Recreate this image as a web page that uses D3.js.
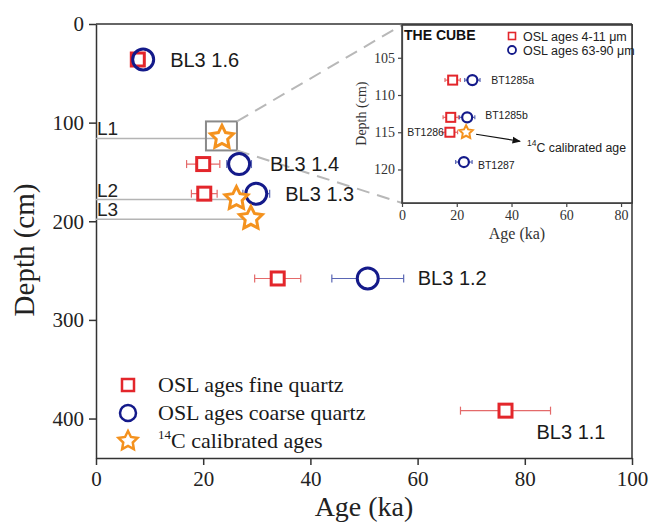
<!DOCTYPE html>
<html>
<head>
<meta charset="utf-8">
<script src="https://cdn.jsdelivr.net/npm/d3@7"></script>
<style>
  html, body { margin: 0; padding: 0; background: #fff; }
  svg { display: block; }
</style>
</head>
<body>
<svg id="chart" width="651" height="524"></svg>
<script>
// ---- Main profile: BL3 section ----
const sampleNames = ["BL3 1.6", "BL3 1.4", "BL3 1.3", "BL3 1.2", "BL3 1.1"];
const sampleDepth = [36, 142, 172, 258, 392];
const fineAge = [7.8, 20.0, 20.2, 33.9, 76.4];
const fineErr = [0, 3.1, 2.4, 4.3, 8.4];
const coarseAge = [8.8, 26.7, 29.9, 50.7, null];
const coarseErr = [0, 2.3, 2.5, 6.7, null];

// Radiocarbon levels
const c14Levels = ["L1", "L2", "L3"];
const c14Depth = [115, 177, 197];
const c14Age = [23.5, 26.2, 28.9];

// Axis ticks
const ageTicks = [0, 20, 40, 60, 80, 100];
const depthTicks = [0, 100, 200, 300, 400];

// ---- Inset: THE CUBE ----
const cubeNames = ["BT1285a", "BT1285b", "BT1286", "BT1287"];
const cubeDepth = [108, 113, 115, 119];
const cubeFine = [18.5, 17.8, 17.5, null];
const cubeFineErr = [2.8, 2.8, 2.8, null];
const cubeCoarse = [25.7, 23.8, null, 22.6];
const cubeCoarseErr = [2.8, 2.8, null, 3.0];
const cubeC14Age = [23.4];
const cubeC14Depth = [115];
const cubeAgeTicks = [0, 20, 40, 60, 80];
const cubeDepthTicks = [105, 110, 115, 120];

const RED = "#e3262b", BLUE = "#141a8a", ORANGE = "#f4921e";
const RED_BAR = "#e46a6a", BLUE_BAR = "#5a66b4";
const SERIF = "'Liberation Serif', 'Times New Roman', serif";
const SANS = "'Liberation Sans', Arial, sans-serif";

const svg = d3.select("#chart");

const x = d3.scaleLinear().domain([0, 100]).range([96, 632]);
const y = d3.scaleLinear().domain([0, 440]).range([24, 458]);

function starPath(R, r) {
  const pts = d3.range(10).map(i => {
    const a = -Math.PI / 2 + i * Math.PI / 5;
    const rad = i % 2 === 0 ? R : r;
    return [rad * Math.cos(a), rad * Math.sin(a)];
  });
  return d3.line()(pts) + "Z";
}

// ---- Main axes ----
const gx = svg.append("g").attr("transform", "translate(0,458)")
  .call(d3.axisBottom(x).tickValues(ageTicks).tickSizeInner(7).tickSizeOuter(0).tickPadding(6));
const gy = svg.append("g").attr("transform", "translate(96,0)")
  .call(d3.axisLeft(y).tickValues(depthTicks).tickSizeInner(7).tickSizeOuter(0).tickPadding(5));
[gx, gy].forEach(g => {
  g.selectAll("path, line").attr("stroke", "#333").attr("stroke-width", 1.5);
  g.selectAll("text").attr("font-family", SERIF).attr("font-size", 21).attr("fill", "#222");
});
// frame top and right
svg.append("line").attr("x1", x(0)).attr("x2", x(100)).attr("y1", y(0)).attr("y2", y(0))
  .attr("stroke", "#333").attr("stroke-width", 1.5);
svg.append("line").attr("x1", x(100)).attr("x2", x(100)).attr("y1", y(0)).attr("y2", y(440))
  .attr("stroke", "#333").attr("stroke-width", 1.5);

svg.append("text").attr("x", x(50)).attr("y", 516).attr("text-anchor", "middle")
  .attr("font-family", SERIF).attr("font-size", 28).attr("fill", "#222").text("Age (ka)");
svg.append("text").attr("transform", "translate(34,250) rotate(-90)").attr("text-anchor", "middle")
  .attr("font-family", SERIF).attr("font-size", 29).attr("fill", "#222").text("Depth (cm)");

// ---- Radiocarbon level lines and labels ----
c14Levels.forEach((lab, i) => {
  svg.append("line").attr("x1", x(0)).attr("x2", x(c14Age[i]))
    .attr("y1", y(c14Depth[i]) + 1).attr("y2", y(c14Depth[i]) + 1)
    .attr("stroke", "#b4b4b4").attr("stroke-width", 1.5);
  svg.append("text").attr("x", x(0) + 1).attr("y", y(c14Depth[i]) - 2)
    .attr("font-family", SANS).attr("font-size", 19).attr("fill", "#222").text(lab);
});

// Zoom box around L1 and connector lines to the inset
const boxCx = x(c14Age[0]), boxCy = y(c14Depth[0]);
svg.append("rect").attr("x", boxCx - 16).attr("y", boxCy - 16).attr("width", 31).attr("height", 29)
  .attr("fill", "none").attr("stroke", "#8a8a8a").attr("stroke-width", 2);
const ix = d3.scaleLinear().domain([0, 84]).range([402, 632]);
const iy = d3.scaleLinear().domain([100.6, 124.5]).range([25, 203]);
svg.append("line").attr("x1", boxCx + 15).attr("y1", boxCy - 16).attr("x2", ix(0)).attr("y2", iy(100.6))
  .attr("stroke", "#b8b8b8").attr("stroke-width", 2).attr("stroke-dasharray", "13,8");
svg.append("line").attr("x1", boxCx + 15).attr("y1", boxCy + 13).attr("x2", ix(0)).attr("y2", iy(124.5))
  .attr("stroke", "#b8b8b8").attr("stroke-width", 2).attr("stroke-dasharray", "13,8");

// ---- Error bars ----
function errBar(g, cx, lo, hi, cy, color, cap) {
  g.append("line").attr("x1", lo).attr("x2", hi).attr("y1", cy).attr("y2", cy)
    .attr("stroke", color).attr("stroke-width", 1.2);
  [lo, hi].forEach(v => g.append("line").attr("x1", v).attr("x2", v)
    .attr("y1", cy - cap).attr("y2", cy + cap).attr("stroke", color).attr("stroke-width", 1.2));
}

const main = svg.append("g");
sampleNames.forEach((n, i) => {
  if (fineErr[i] > 0) errBar(main, x(fineAge[i]), x(fineAge[i] - fineErr[i]), x(fineAge[i] + fineErr[i]), y(sampleDepth[i]), RED_BAR, 4);
  if (coarseAge[i] != null && coarseErr[i] > 0) errBar(main, x(coarseAge[i]), x(coarseAge[i] - coarseErr[i]), x(coarseAge[i] + coarseErr[i]), y(sampleDepth[i]), BLUE_BAR, 4);
});
// fine quartz squares
sampleNames.forEach((n, i) => {
  main.append("rect").attr("x", x(fineAge[i]) - 6.5).attr("y", y(sampleDepth[i]) - 6.5)
    .attr("width", 13).attr("height", 13).attr("fill", "#fff").attr("stroke", RED).attr("stroke-width", 3);
});
// coarse quartz circles
sampleNames.forEach((n, i) => {
  if (coarseAge[i] == null) return;
  main.append("circle").attr("cx", x(coarseAge[i])).attr("cy", y(sampleDepth[i])).attr("r", 10.5)
    .attr("fill", i === 0 ? "none" : "#fff").attr("stroke", BLUE).attr("stroke-width", 3);
});
// 14C stars
c14Levels.forEach((lab, i) => {
  main.append("path").attr("d", starPath(12, 6))
    .attr("transform", `translate(${x(c14Age[i])},${y(c14Depth[i])})`)
    .attr("fill", "#fff").attr("stroke", ORANGE).attr("stroke-width", 3).attr("stroke-linejoin", "miter");
});

// Sample labels
const labelPos = [
  { dx: x(coarseAge[0]) + 27, dy: 7 },
  { dx: x(coarseAge[1]) + 31, dy: 7 },
  { dx: x(coarseAge[2]) + 29, dy: 7 },
  { dx: x(coarseAge[3]) + 50, dy: 7 },
  { dx: x(fineAge[4]) + 31, dy: 28 }
];
sampleNames.forEach((n, i) => {
  svg.append("text").attr("x", labelPos[i].dx).attr("y", y(sampleDepth[i]) + labelPos[i].dy)
    .attr("font-family", SANS).attr("font-size", 20).attr("fill", "#1a1a1a").text(n);
});

// ---- Legend ----
const leg = svg.append("g");
const legY = [385, 413, 441];
leg.append("rect").attr("x", 128 - 6).attr("y", legY[0] - 6).attr("width", 12).attr("height", 12)
  .attr("fill", "#fff").attr("stroke", RED).attr("stroke-width", 2.5);
leg.append("circle").attr("cx", 128).attr("cy", legY[1]).attr("r", 8)
  .attr("fill", "#fff").attr("stroke", BLUE).attr("stroke-width", 2.5);
leg.append("path").attr("d", starPath(10, 5)).attr("transform", `translate(128,${legY[2]})`)
  .attr("fill", "#fff").attr("stroke", ORANGE).attr("stroke-width", 2.5);
const legTxt = ["OSL ages fine quartz", "OSL ages coarse quartz"];
legTxt.forEach((t, i) => leg.append("text").attr("x", 158).attr("y", legY[i] + 7)
  .attr("font-family", SERIF).attr("font-size", 22).attr("fill", "#1a1a1a").text(t));
const t3 = leg.append("text").attr("x", 158).attr("y", legY[2] + 7)
  .attr("font-family", SERIF).attr("font-size", 22).attr("fill", "#1a1a1a");
t3.append("tspan").attr("font-size", 13).attr("dy", -9).text("14");
t3.append("tspan").attr("dy", 9).text("C calibrated ages");

// ---- Inset ----
const ins = svg.append("g");
ins.append("rect").attr("x", ix(0)).attr("y", iy(100.6)).attr("width", ix(84) - ix(0)).attr("height", iy(124.5) - iy(100.6))
  .attr("fill", "#fff").attr("stroke", "#333").attr("stroke-width", 1.5);
const igx = ins.append("g").attr("transform", `translate(0,${iy(124.5)})`)
  .call(d3.axisBottom(ix).tickValues(cubeAgeTicks).tickSizeInner(4).tickSizeOuter(0).tickPadding(3));
const igy = ins.append("g").attr("transform", `translate(${ix(0)},0)`)
  .call(d3.axisLeft(iy).tickValues(cubeDepthTicks).tickSizeInner(4).tickSizeOuter(0).tickPadding(3));
[igx, igy].forEach(g => {
  g.selectAll("path, line").attr("stroke", "#444").attr("stroke-width", 1.2);
  g.selectAll("text").attr("font-family", SERIF).attr("font-size", 14).attr("fill", "#333");
});
ins.append("text").attr("x", ix(42)).attr("y", 239).attr("text-anchor", "middle")
  .attr("font-family", SERIF).attr("font-size", 16).attr("fill", "#333").text("Age (ka)");
ins.append("text").attr("transform", `translate(366,${iy(112.5)}) rotate(-90)`).attr("text-anchor", "middle")
  .attr("font-family", SERIF).attr("font-size", 14).attr("fill", "#333").text("Depth (cm)");

cubeNames.forEach((n, i) => {
  const cy = iy(cubeDepth[i]);
  if (cubeFine[i] != null) errBar(ins, ix(cubeFine[i]), ix(cubeFine[i] - cubeFineErr[i]), ix(cubeFine[i] + cubeFineErr[i]), cy, RED_BAR, 2);
  if (cubeCoarse[i] != null) errBar(ins, ix(cubeCoarse[i]), ix(cubeCoarse[i] - cubeCoarseErr[i]), ix(cubeCoarse[i] + cubeCoarseErr[i]), cy, BLUE_BAR, 2);
});
cubeNames.forEach((n, i) => {
  const cy = iy(cubeDepth[i]);
  if (cubeFine[i] != null) ins.append("rect").attr("x", ix(cubeFine[i]) - 4.5).attr("y", cy - 4.5)
    .attr("width", 9).attr("height", 9).attr("fill", "#fff").attr("stroke", RED).attr("stroke-width", 2);
  if (cubeCoarse[i] != null) ins.append("circle").attr("cx", ix(cubeCoarse[i])).attr("cy", cy).attr("r", 5)
    .attr("fill", "#fff").attr("stroke", BLUE).attr("stroke-width", 2.2);
});
cubeC14Age.forEach((a, i) => {
  ins.append("path").attr("d", starPath(7, 3.5)).attr("transform", `translate(${ix(a)},${iy(cubeC14Depth[i])})`)
    .attr("fill", "#fff").attr("stroke", ORANGE).attr("stroke-width", 2);
});

// Inset sample labels
const insLab = [
  { x: ix(cubeCoarse[0]) + 19, anchor: "start", dy: 4 },
  { x: ix(cubeCoarse[1]) + 18, anchor: "start", dy: 2 },
  { x: ix(cubeFine[2]) - 6, anchor: "end", dy: 4 },
  { x: ix(cubeCoarse[3]) + 14, anchor: "start", dy: 7 }
];
cubeNames.forEach((n, i) => {
  ins.append("text").attr("x", insLab[i].x).attr("y", iy(cubeDepth[i]) + insLab[i].dy)
    .attr("text-anchor", insLab[i].anchor).attr("font-family", SANS).attr("font-size", 10.5)
    .attr("fill", "#222").text(n);
});

// Arrow to the radiocarbon annotation
const defs = svg.append("defs");
defs.append("marker").attr("id", "arrowhead").attr("viewBox", "0 0 10 10").attr("refX", 9).attr("refY", 5)
  .attr("markerWidth", 7).attr("markerHeight", 7).attr("orient", "auto")
  .append("path").attr("d", "M0,1 L10,5 L0,9 Z").attr("fill", "#111");
const sx = ix(cubeC14Age[0]), sy = iy(cubeC14Depth[0]);
ins.append("line").attr("x1", sx + 10).attr("y1", sy + 2).attr("x2", sx + 54).attr("y2", sy + 9)
  .attr("stroke", "#111").attr("stroke-width", 1.2).attr("marker-end", "url(#arrowhead)");
const ann = ins.append("text").attr("x", 527).attr("y", sy + 20)
  .attr("font-family", SANS).attr("font-size", 12.3).attr("fill", "#222");
ann.append("tspan").attr("font-size", 8.5).attr("dy", -6).text("14");
ann.append("tspan").attr("dy", 6).text("C calibrated age");

// Inset title and legend
ins.append("text").attr("x", 404).attr("y", 40).attr("font-family", SANS).attr("font-weight", "bold")
  .attr("font-size", 14).attr("fill", "#111").text("THE CUBE");
ins.append("rect").attr("x", 512 - 3.5).attr("y", 36 - 3.5).attr("width", 7).attr("height", 7)
  .attr("fill", "#fff").attr("stroke", RED).attr("stroke-width", 1.6);
ins.append("circle").attr("cx", 512).attr("cy", 50).attr("r", 4)
  .attr("fill", "#fff").attr("stroke", BLUE).attr("stroke-width", 1.8);
ins.append("text").attr("x", 523).attr("y", 40.5).attr("font-family", SANS).attr("font-size", 12.5)
  .attr("fill", "#222").text("OSL ages 4-11 μm");
ins.append("text").attr("x", 523).attr("y", 54.5).attr("font-family", SANS).attr("font-size", 12.5)
  .attr("fill", "#222").text("OSL ages 63-90 μm");
</script>
</body>
</html>
